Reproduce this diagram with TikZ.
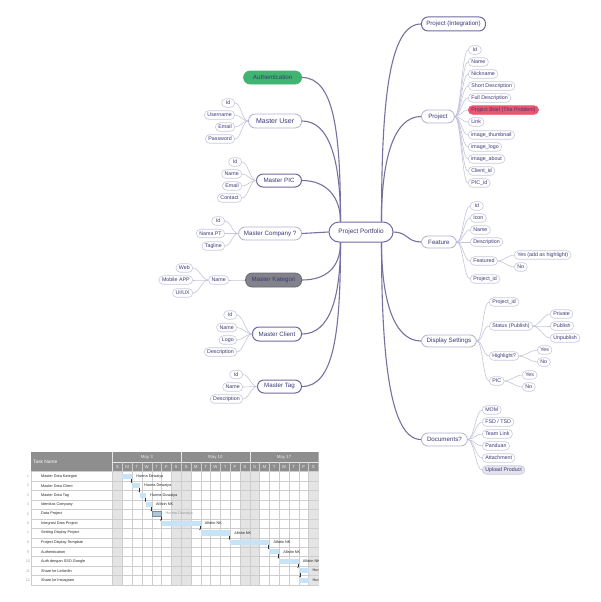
\documentclass[tikz,border=0pt]{standalone}
\usepackage{fontspec}
\setmainfont{Liberation Sans}
\usepackage{tikz}
\usetikzlibrary{arrows.meta, positioning, calc}
\usepackage{xcolor}
\definecolor{inkblue}{RGB}{58, 56, 118}
\definecolor{topicedge}{RGB}{178, 176, 206}
\definecolor{topicdeep}{RGB}{112, 108, 160}
\definecolor{branchcol}{RGB}{118, 114, 160}
\definecolor{leafedge}{RGB}{200, 200, 222}
\definecolor{twigcol}{RGB}{196, 196, 220}
\definecolor{authgreen}{RGB}{64, 180, 112}
\definecolor{briefpink}{RGB}{233, 86, 110}
\definecolor{katgrey}{RGB}{130, 130, 138}
\definecolor{uploadgrey}{RGB}{228, 228, 236}
\definecolor{ganttgrey}{RGB}{142, 142, 142}
\definecolor{weekendgrey}{RGB}{228, 228, 228}
\definecolor{gridgrey}{RGB}{205, 205, 205}
\definecolor{barblue}{RGB}{198, 228, 246}
\definecolor{bargrey}{RGB}{176, 198, 218}

\tikzset{
  topic/.style={draw=topicedge, line width=0.8pt, rounded corners=6.5pt, fill=white,
    text=inkblue, font=\fontsize{6.2}{7}\selectfont, minimum height=13pt,
    inner xsep=3pt, inner ysep=0pt},
  topicdark/.style={topic, draw=topicdeep, line width=1pt},
  leaf/.style={draw=leafedge, line width=0.6pt, rounded corners=4.2pt, fill=white,
    text=inkblue, font=\fontsize{5.3}{6}\selectfont, minimum height=8.5pt,
    minimum width=13pt, inner xsep=3pt, inner ysep=0pt},
  branch/.style={draw=branchcol, line width=1.1pt},
  twig/.style={draw=twigcol, line width=0.6pt,
    to path={.. controls +(#1,0) and +(-#1,0) .. (\tikztotarget) \tikztonodes}},
  twig/.default=6,
  ganttgrid/.style={draw=gridgrey, line width=0.3pt},
  gantttext/.style={font=\fontsize{3.8}{4.5}\selectfont, inner sep=0pt}
}

\begin{document}
\begin{tikzpicture}[x=1pt, y=-1pt]
  \useasboundingbox (0,0) rectangle (600,602);

  % centre
  \node[topicdark, minimum width=64pt, minimum height=20pt, rounded corners=10pt,
    font=\fontsize{6.4}{7}\selectfont] (pp) at (361,232) {Project Portfolio};

  % ---------------- left side ----------------
  \node[topic, fill=authgreen, draw=authgreen, anchor=east, minimum width=58pt] (auth) at (302,77.5) {Authentication};

  % Master User
  \node[topic, anchor=east, minimum width=53pt, minimum height=14pt,
    font=\fontsize{7}{8}\selectfont] (muser) at (302,121) {Master User};
  \node[leaf, anchor=east] (mu1) at (235,103) {Id};
  \node[leaf, anchor=east] (mu2) at (235,115) {Username};
  \node[leaf, anchor=east] (mu3) at (235,127) {Email};
  \node[leaf, anchor=east] (mu4) at (235,139) {Password};
  \foreach \n in {mu1,mu2,mu3,mu4} \draw[twig=-6] (muser.west) to (\n.east);

  % Master PIC
  \node[topicdark, anchor=east, minimum width=45pt] (mpic) at (302,180.5) {Master PIC};
  \node[leaf, anchor=east] (mp1) at (242,162) {Id};
  \node[leaf, anchor=east] (mp2) at (242,174) {Name};
  \node[leaf, anchor=east] (mp3) at (242,186) {Email};
  \node[leaf, anchor=east] (mp4) at (242,198) {Contact};
  \foreach \n in {mp1,mp2,mp3,mp4} \draw[twig=-6] (mpic.west) to (\n.east);

  % Master Company
  \node[topic, anchor=east, minimum width=63pt] (mcomp) at (302,233.5) {Master Company ?};
  \node[leaf, anchor=east] (mc1) at (225,221) {Id};
  \node[leaf, anchor=east] (mc2) at (225,233.5) {Nama PT};
  \node[leaf, anchor=east] (mc3) at (225,246) {Tagline};
  \foreach \n in {mc1,mc2,mc3} \draw[twig=-6] (mcomp.west) to (\n.east);

  % Master Kategori
  \node[topic, fill=katgrey, draw=katgrey!80!black, anchor=east, minimum width=56pt,
    minimum height=14pt] (mkat) at (302,280) {Master Kategori};
  \node[leaf, anchor=east] (mkname) at (229,280) {Name};
  \node[leaf, anchor=east] (mk1) at (193,268) {Web};
  \node[leaf, anchor=east] (mk2) at (193,280) {Mobile APP};
  \node[leaf, anchor=east] (mk3) at (193,293) {UI/UX};
  \draw[twig=-6] (mkat.west) to (mkname.east);
  \foreach \n in {mk1,mk2,mk3} \draw[twig=-6] (mkname.west) to (\n.east);

  % Master Client
  \node[topicdark, anchor=east, minimum width=49pt, minimum height=14pt] (mcli) at (302,334) {Master Client};
  \node[leaf, anchor=east] (ml1) at (237,315) {Id};
  \node[leaf, anchor=east] (ml2) at (237,327.5) {Name};
  \node[leaf, anchor=east] (ml3) at (237,340) {Logo};
  \node[leaf, anchor=east] (ml4) at (237,352) {Description};
  \foreach \n in {ml1,ml2,ml3,ml4} \draw[twig=-6] (mcli.west) to (\n.east);

  % Master Tag
  \node[topicdark, anchor=east, minimum width=44pt] (mtag) at (302,386.5) {Master Tag};
  \node[leaf, anchor=east] (mt1) at (243,374.5) {Id};
  \node[leaf, anchor=east] (mt2) at (243,387) {Name};
  \node[leaf, anchor=east] (mt3) at (243,399) {Description};
  \foreach \n in {mt1,mt2,mt3} \draw[twig=-6] (mtag.west) to (\n.east);

  % ---------------- right side ----------------
  \node[topicdark, anchor=west, minimum width=64pt, minimum height=14pt] (pint) at (421,24) {Project (Integration)};

  % Project
  \node[topic, anchor=west, minimum width=33pt] (proj) at (421,116.5) {Project};
  \node[leaf, anchor=west] (pj1) at (468,50) {Id};
  \node[leaf, anchor=west] (pj2) at (468,62) {Name};
  \node[leaf, anchor=west] (pj3) at (468,74) {Nickname};
  \node[leaf, anchor=west] (pj4) at (468,86) {Short Description};
  \node[leaf, anchor=west] (pj5) at (468,98) {Full Description};
  \node[leaf, anchor=west, fill=briefpink, draw=briefpink] (pj6) at (468,110) {Project Brief (The Problem)};
  \node[leaf, anchor=west] (pj7) at (468,122) {Link};
  \node[leaf, anchor=west] (pj8) at (468,135) {image\_thumbnail};
  \node[leaf, anchor=west] (pj9) at (468,147) {image\_logo};
  \node[leaf, anchor=west] (pj10) at (468,159) {image\_about};
  \node[leaf, anchor=west] (pj11) at (468,171) {Client\_id};
  \node[leaf, anchor=west] (pj12) at (468,183) {PIC\_id};
  \foreach \n in {pj1,pj2,pj3,pj4,pj5,pj6,pj7,pj8,pj9,pj10,pj11,pj12}
    \draw[twig] (proj.east) to (\n.west);

  % Feature
  \node[topic, anchor=west, minimum width=35pt, minimum height=12pt] (feat) at (421,242) {Feature};
  \node[leaf, anchor=west] (ft1) at (470,206) {Id};
  \node[leaf, anchor=west] (ft2) at (470,218) {Icon};
  \node[leaf, anchor=west] (ft3) at (470,230) {Name};
  \node[leaf, anchor=west] (ft4) at (470,242) {Description};
  \node[leaf, anchor=west] (ft5) at (470,261) {Featured};
  \node[leaf, anchor=west] (ft6) at (470,279) {Project\_id};
  \node[leaf, anchor=west] (fty) at (514,255) {Yes (add as highlight)};
  \node[leaf, anchor=west] (ftn) at (514,267) {No};
  \foreach \n in {ft1,ft2,ft3,ft4,ft5,ft6} \draw[twig] (feat.east) to (\n.west);
  \foreach \n in {fty,ftn} \draw[twig] (ft5.east) to (\n.west);

  % Display Settings
  \node[topic, anchor=west, minimum width=55pt, minimum height=12pt] (disp) at (421,341) {Display Settings};
  \node[leaf, anchor=west] (ds1) at (489,302) {Project\_id};
  \node[leaf, anchor=west] (ds2) at (489,326) {Status (Publish)};
  \node[leaf, anchor=west] (ds3) at (489,356) {Highlight?};
  \node[leaf, anchor=west] (ds4) at (489,381) {PIC};
  \node[leaf, anchor=west] (st1) at (550,314) {Private};
  \node[leaf, anchor=west] (st2) at (550,326) {Publish};
  \node[leaf, anchor=west] (st3) at (550,338) {Unpublish};
  \node[leaf, anchor=west] (hl1) at (537,350) {Yes};
  \node[leaf, anchor=west] (hl2) at (537,362) {No};
  \node[leaf, anchor=west] (pc1) at (522,375) {Yes};
  \node[leaf, anchor=west] (pc2) at (522,387) {No};
  \foreach \n in {ds1,ds2,ds3,ds4} \draw[twig] (disp.east) to (\n.west);
  \foreach \n in {st1,st2,st3} \draw[twig] (ds2.east) to (\n.west);
  \foreach \n in {hl1,hl2} \draw[twig] (ds3.east) to (\n.west);
  \foreach \n in {pc1,pc2} \draw[twig] (ds4.east) to (\n.west);

  % Documents
  \node[topic, anchor=west, minimum width=46pt] (docs) at (421,439.5) {Documents?};
  \node[leaf, anchor=west] (dc1) at (482,410) {MOM};
  \node[leaf, anchor=west] (dc2) at (482,422) {FSD / TSD};
  \node[leaf, anchor=west] (dc3) at (482,434) {Team Link};
  \node[leaf, anchor=west] (dc4) at (482,446) {Panduan};
  \node[leaf, anchor=west] (dc5) at (482,458) {Attachment};
  \node[leaf, anchor=west, fill=uploadgrey] (dc6) at (482,470) {Upload Product};
  \foreach \n in {dc1,dc2,dc3,dc4,dc5,dc6} \draw[twig] (docs.east) to (\n.west);

  % ---------------- main branches ----------------
  \draw[branch] ([xshift=12pt]pp.north west) .. controls +(0,-90) and +(32,0) .. (auth.east);
  \draw[branch] ([xshift=12pt]pp.north west) .. controls +(0,-60) and +(28,0) .. (muser.east);
  \draw[branch] ([xshift=12pt]pp.north west) .. controls +(0,-25) and +(24,0) .. (mpic.east);
  \draw[branch] (pp.west) -- (mcomp.east);
  \draw[branch] ([xshift=12pt]pp.south west) .. controls +(0,25) and +(24,0) .. (mkat.east);
  \draw[branch] ([xshift=12pt]pp.south west) .. controls +(0,55) and +(28,0) .. (mcli.east);
  \draw[branch] ([xshift=12pt]pp.south west) .. controls +(0,90) and +(32,0) .. (mtag.east);
  \draw[branch] ([xshift=-12pt]pp.north east) .. controls +(0,-120) and +(-32,0) .. (pint.west);
  \draw[branch] ([xshift=-12pt]pp.north east) .. controls +(0,-60) and +(-28,0) .. (proj.west);
  \draw[branch] (pp.east) .. controls +(14,0) and +(-14,0) .. (feat.west);
  \draw[branch] ([xshift=-12pt]pp.south east) .. controls +(0,55) and +(-28,0) .. (disp.west);
  \draw[branch] ([xshift=-12pt]pp.south east) .. controls +(0,110) and +(-32,0) .. (docs.west);

  % ---------------- gantt screenshot ----------------
  \begin{scope}
    \clip (24,451) rectangle (318.5,586);
    \fill[ganttgrey] (31,452) rectangle (318.5,471);
    \foreach \d in {0,6,7,13,14,20}
      \fill[weekendgrey] ({112.5+9.8*\d},471) rectangle ++(9.8,115);
    \foreach \r in {0,...,12}
      \draw[ganttgrid] (31,{471.5+9.45*\r}) -- (318.5,{471.5+9.45*\r});
    \foreach \d in {0,...,21}
      \draw[ganttgrid] ({112.5+9.8*\d},471) -- ({112.5+9.8*\d},586);
    \draw[ganttgrid] (31,471) -- (31,586);
    % header
    \draw[white!80!gray, line width=0.4pt] (112.5,462) -- (318.5,462);
    \foreach \w in {0,1,2}
      \draw[white!80!gray, line width=0.4pt] ({112.5+68.6*\w},452) -- ++(0,19);
    \foreach \d in {1,...,20}
      \draw[white!60!gray, line width=0.3pt] ({112.5+9.8*\d},462) -- ++(0,9);
    \node[gantttext, white, anchor=west, font=\fontsize{4.8}{5.5}\selectfont] at (33,462) {Task Name};
    \foreach \w/\lbl in {0/May 3,1/May 10,2/May 17}
      \node[gantttext, white!85!gray, font=\fontsize{4.4}{5}\selectfont] at ({146.8+68.6*\w},457) {\lbl};
    \foreach \w in {0,1,2}
      \foreach \d/\l in {0/S,1/M,2/T,3/W,4/T,5/F,6/S}
        \node[gantttext, white!85!gray, font=\fontsize{4.4}{5}\selectfont] at ({117.4+68.6*\w+9.8*\d},466.8) {\l};
    % rows
    \foreach \i/\task in {1/Master Data Kategori,2/Master Data Client,3/Master Data Tag,
        4/Identitas Company,5/Data Project,6/Integrasi Data Project,7/Setting Display Project,
        8/Project Display Template,9/Authentication,10/Auth dengan SSO Google,
        11/Share ke LinkedIn,12/Share ke Instagram} {
      \node[gantttext, gray!70] at (28,{476.2+9.45*(\i-1)}) {\i};
      \node[gantttext, black!85, anchor=west] at (41,{476.2+9.45*(\i-1)}) {\task};
    }
    % bars
    \foreach \i/\a/\b/\who in {1/122.3/132.1/Hurma Dewaiya,2/132.1/140/Hurma Dewaiya,
        3/140/146/Hurma Duwaiya,4/146/152/Alfatin NK,6/161.5/200.7/Alfatin NK,
        7/200.7/230.1/Alfatin NK,8/230.1/269.3/Alfatin NK,9/269.3/279.1/Alfatin NK,
        10/279.1/298.7/Alfatin NK,11/298.7/308.5/Hurma Duwaiya,12/298.7/308.5/Hurma Duwaiya} {
      \fill[barblue] (\a,{476.2+9.45*(\i-1)-2.6}) rectangle (\b,{476.2+9.45*(\i-1)+2.6});
      \node[gantttext, black!85, anchor=west] at ({\b+4},{476.2+9.45*(\i-1)}) {\who};
    }
    \fill[bargrey, draw=bargrey!70!black, line width=0.3pt] (152,{476.2+9.45*4-2.6}) rectangle (161.5,{476.2+9.45*4+2.6});
    \node[gantttext, gray!80, anchor=west] at (165.5,{476.2+9.45*4}) {Hurma Duwaiya};
    % dependencies
    \foreach \i/\x in {1/131.3,2/139.2,3/145.2,4/151.2,5/160.7,6/199.9,7/229.3,8/268.5,9/278.3,10/297.9,11/300}
      \draw[-{Stealth[length=1.4pt,width=1.2pt]}, line width=0.3pt, black!80]
        (\x,{476.2+9.45*(\i-1)+2.6}) -- (\x,{476.2+9.45*\i-2.6});
  \end{scope}
\end{tikzpicture}
\end{document}
